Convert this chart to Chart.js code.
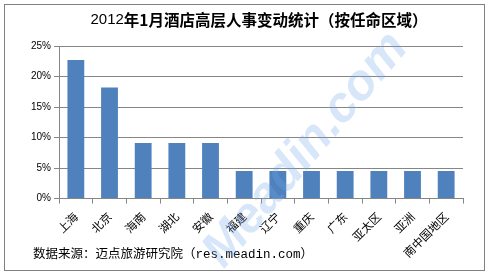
<!DOCTYPE html>
<html>
<head>
<meta charset="utf-8">
<script src="https://cdn.jsdelivr.net/npm/chart.js@4/dist/chart.umd.min.js"></script>
<style>
  html, body { margin: 0; padding: 0; background: #fff; }
  #wrap { width: 490px; height: 275px; position: relative; }
</style>
</head>
<body>
<div id="wrap"><canvas id="regionChart" width="490" height="275"></canvas></div>
<script>
// data (share of appointments, %)
const regions = ['上海', '北京', '海南', '湖北', '安徽', '福建', '辽宁', '重庆', '广东', '亚太区', '亚洲', '南中国地区'];
const shares = [22.7, 18.2, 9.1, 9.1, 9.1, 4.5, 4.5, 4.5, 4.5, 4.5, 4.5, 4.5];
const yTicks = [0, 5, 10, 15, 20, 25];

const titleYear = '2012';
const titleRest = '年1月酒店高层人事变动统计（按任命区域）';
const sourceNote = '数据来源：迈点旅游研究院（res.meadin.com）';
const watermark = 'Meadin.com';

const cjk = '"Noto Sans CJK SC", sans-serif';
const gridColor = '#868686';

// frame, title, source line and watermark are drawn around the plot
const decorPlugin = {
  id: 'decor',
  afterDraw(chart) {
    const c = chart.ctx;
    c.save();
    c.strokeStyle = '#808080';
    c.lineWidth = 1;
    c.strokeRect(4.5, 4.5, 480, 266);

    // title: year in plain weight, the rest bold, centred as one line
    c.fillStyle = '#000';
    c.textBaseline = 'middle';
    c.textAlign = 'left';
    const yearFont = '15px "Liberation Sans", sans-serif';
    const restFont = 'bold 15.5px ' + cjk;
    c.font = yearFont;
    const w1 = c.measureText(titleYear).width;
    c.font = restFont;
    const w2 = c.measureText(titleRest).width;
    let x = 259 - (w1 + w2) / 2;
    c.font = yearFont;
    c.fillText(titleYear, x, 20);
    c.font = restFont;
    c.fillText(titleRest, x + w1, 20);

    c.font = '12.5px "Liberation Mono", ' + cjk;
    c.fillText(sourceNote, 33, 255);

    c.translate(306, 150);
    c.rotate(-50 * Math.PI / 180);
    c.textAlign = 'center';
    c.font = 'italic bold 50px "Liberation Sans", sans-serif';
    c.fillStyle = 'rgba(110, 165, 235, 0.28)';
    c.fillText(watermark, 0, 0);
    c.restore();
  }
};

new Chart(document.getElementById('regionChart'), {
  type: 'bar',
  data: {
    labels: regions,
    datasets: [{
      data: shares,
      backgroundColor: '#4F81BD',
      barPercentage: 0.5,
      categoryPercentage: 1.0
    }]
  },
  options: {
    responsive: false,
    animation: false,
    layout: { padding: { left: 28, right: 27, top: 46, bottom: 9 } },
    plugins: { legend: { display: false }, tooltip: { enabled: false } },
    scales: {
      x: {
        grid: { display: true, drawOnChartArea: false, color: gridColor, tickLength: 5, offset: true },
        border: { color: gridColor },
        ticks: { color: '#000', font: { family: cjk, size: 11.5 }, maxRotation: 45, minRotation: 45, autoSkip: false, padding: 6 }
      },
      y: {
        min: 0,
        max: 25,
        afterBuildTicks(axis) { axis.ticks = yTicks.map(v => ({ value: v })); },
        grid: { color: gridColor, tickLength: 5 },
        border: { color: gridColor },
        ticks: { color: '#000', font: { family: '"Liberation Sans", sans-serif', size: 10 }, padding: 3, callback: v => v + '%' }
      }
    }
  },
  plugins: [decorPlugin]
});
</script>
</body>
</html>
